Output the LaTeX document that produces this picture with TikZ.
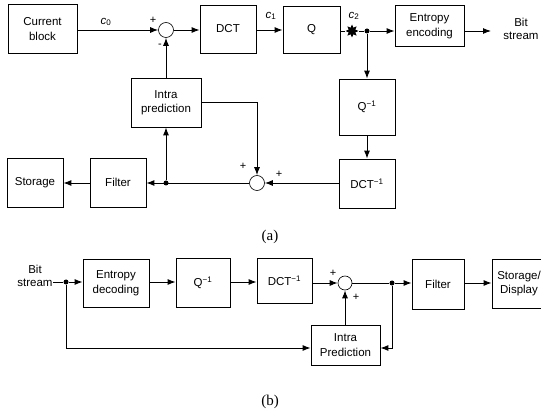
\documentclass[tikz,border=0pt]{standalone}
\usepackage{fontspec}
\setmainfont{Liberation Sans}
\newfontfamily\serifcap{Liberation Serif}
\usetikzlibrary{arrows.meta,shapes.geometric}
\begin{document}
\begin{tikzpicture}[x=1pt,y=-1pt,
  blk/.style={draw,line width=0.8pt,inner sep=1pt,align=center,font=\fontsize{11.5}{14.5}\selectfont},
  sumc/.style={draw,circle,line width=0.6pt,minimum size=15pt,inner sep=0pt},
  conn/.style={line width=0.95pt},
  arr/.style={conn,-{Latex[length=8pt,width=6pt]}},
  jdot/.style={circle,fill,minimum size=5pt,inner sep=0pt},
  lbl/.style={font=\fontsize{11.5}{13.5}\selectfont,inner sep=0pt},
  sgn/.style={font=\fontsize{11}{13}\selectfont,inner sep=0pt},
  captxt/.style={font=\serifcap\fontsize{15}{18}\selectfont}]
\useasboundingbox (0,0) rectangle (541,414);
% ---------- (a) ----------
\node[blk,minimum width=69pt,minimum height=49pt] (cur) at (42.5,29) {Current\\block};
\node[sumc] (s1) at (166,30) {};
\node[blk,minimum width=56pt,minimum height=48pt] (dct) at (228,29) {DCT};
\node[blk,minimum width=57pt,minimum height=47pt] (q) at (311.5,30) {Q};
\node[star,star points=8,star point ratio=1.8,fill,minimum size=13pt,inner sep=0pt] (st) at (352,31) {};
\node[jdot] (j1) at (367,31) {};
\node[blk,minimum width=69pt,minimum height=41pt] (ent) at (429.5,26) {Entropy\\encoding};
\node[lbl,align=center] (bs1) at (521,29) {Bit\\stream};
\coordinate (bsend) at (491,31);
\node[blk,minimum width=56pt,minimum height=56pt] (qi) at (367,107) {Q\textsuperscript{−1}};
\node[blk,minimum width=56pt,minimum height=49pt] (dcti) at (367,183.5) {DCT\textsuperscript{−1}};
\node[sumc] (s2) at (257,183) {};
\node[blk,minimum width=70pt,minimum height=49pt] (intra) at (166,102.5) {Intra\\prediction};
\node[jdot] (j2) at (166,183) {};
\node[blk,minimum width=56pt,minimum height=49pt] (filt) at (118,182.5) {Filter};
\node[blk,minimum width=56pt,minimum height=49pt] (stor) at (35,182.5) {Storage};
\node[lbl] (c0) at (106,22) {\textit{c}\textsubscript{0}};
\node[lbl] (c1) at (271,16) {\textit{c}\textsubscript{1}};
\node[lbl] (c2) at (354,16) {\textit{c}\textsubscript{2}};
\node[sgn] (p1) at (153,20) {+};
\node[sgn] (m1) at (160,46) {-};
\node[sgn] (p2) at (243,166) {+};
\node[sgn] (p3) at (279,174) {+};
\node[captxt] (capa) at (270,237) {(a)};
\draw[arr] (cur.east |- s1) -- (s1.west);
\draw[arr] (s1.east) -- (dct.west |- s1);
\draw[arr] (dct.east |- s1) -- (q.west |- s1);
\draw[conn] (q.east |- j1) -- (st) -- (j1);
\draw[arr] (j1) -- (ent.west |- j1);
\draw[arr] (ent.east |- j1) -- (bsend);
\draw[arr] (j1) -- (qi.north);
\draw[arr] (qi.south) -- (dcti.north);
\draw[arr] (dcti.west |- s2) -- (s2.east);
\draw[arr] (intra.east) -| (s2.north);
\draw[arr] (intra.north) -- (s1.south);
\draw[arr] (s2.west) -- (filt.east |- s2);
\draw[arr] (j2) -- (intra.south);
\draw[arr] (filt.west |- s2) -- (stor.east |- s2);
% ---------- (b) ----------
\node[lbl,align=center] (bs2) at (35,276) {Bit\\stream};
\coordinate (b0) at (53,282);
\node[jdot] (j3) at (66,282) {};
\node[blk,minimum width=66pt,minimum height=48pt] (entd) at (116,283) {Entropy\\decoding};
\node[blk,minimum width=54pt,minimum height=49pt] (qi2) at (203,282.5) {Q\textsuperscript{−1}};
\node[blk,minimum width=55pt,minimum height=45pt] (dcti2) at (284.5,280.5) {DCT\textsuperscript{−1}};
\node[sumc,minimum size=14pt] (s3) at (345,283) {};
\node[jdot] (j4) at (392,283) {};
\node[blk,minimum width=52pt,minimum height=50pt] (filt2) at (438,284) {Filter};
\node[blk,minimum width=54pt,minimum height=49pt] (sd) at (519,283.5) {Storage/\\Display};
\node[blk,minimum width=69pt,minimum height=40pt] (intra2) at (345.5,345) {Intra\\Prediction};
\node[sgn] (p4) at (333,273) {+};
\node[sgn] (p5) at (356,297) {+};
\node[captxt] (capb) at (270,402) {(b)};
\draw[conn] (b0) -- (j3);
\draw[arr] (j3) -- (entd.west |- j3);
\draw[arr] (entd.east |- j3) -- (qi2.west |- j3);
\draw[arr] (qi2.east |- j3) -- (dcti2.west |- j3);
\draw[arr] (dcti2.east |- s3) -- (s3.west);
\draw[conn] (s3.east) -- (j4);
\draw[arr] (j4) -- (filt2.west |- j4);
\draw[arr] (filt2.east |- j4) -- (sd.west |- j4);
\draw[arr] (intra2.north -| s3) -- (s3.south);
\draw[arr] (j4) |- (intra2.east |- 0,348);
\draw[arr] (j3) |- (intra2.west |- 0,348);
\end{tikzpicture}
\end{document}
